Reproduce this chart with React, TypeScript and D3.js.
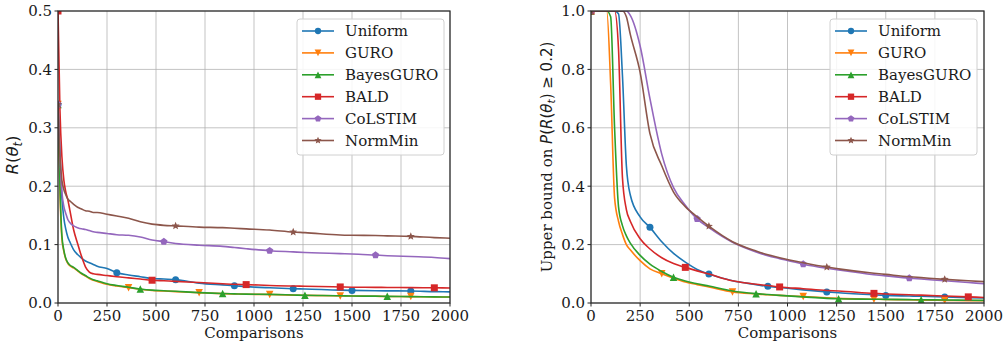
import React from "react";
import * as d3 from "d3";

// ---------- data ----------
const comparisons = [0, 10, 20, 30, 40, 50, 60, 80, 100, 120, 140, 160, 180, 200, 250, 300, 360, 420, 480, 540, 600, 720, 840, 900, 960, 1080, 1200, 1260, 1440, 1500, 1620, 1680, 1800, 1920, 2000];

const methodNames = ["Uniform", "GURO", "BayesGURO", "BALD", "CoLSTIM", "NormMin"];
const markerPeriods = [300, 360, 420, 480, 540, 600];

// Left panel: R(theta_t)
const riskUniform = [0.34, 0.26, 0.18, 0.145, 0.126, 0.113, 0.105, 0.091, 0.083, 0.077, 0.072, 0.069, 0.066, 0.063, 0.059, 0.052, 0.048, 0.045, 0.042, 0.041, 0.04, 0.034, 0.031, 0.0296, 0.028, 0.026, 0.0245, 0.024, 0.022, 0.0216, 0.021, 0.0208, 0.0205, 0.0195, 0.019];
const riskGURO = [0.34, 0.19, 0.11, 0.088, 0.075, 0.068, 0.064, 0.06, 0.055, 0.05, 0.046, 0.042, 0.039, 0.037, 0.032, 0.029, 0.026, 0.0235, 0.0215, 0.0205, 0.0195, 0.0175, 0.016, 0.0155, 0.015, 0.0145, 0.0135, 0.013, 0.0122, 0.012, 0.0115, 0.0112, 0.011, 0.0105, 0.0102];
const riskBayesGURO = [0.34, 0.2, 0.115, 0.09, 0.076, 0.069, 0.065, 0.061, 0.056, 0.051, 0.047, 0.043, 0.04, 0.038, 0.033, 0.03, 0.027, 0.024, 0.022, 0.021, 0.02, 0.0178, 0.0162, 0.0157, 0.0152, 0.0147, 0.0137, 0.0132, 0.0125, 0.012, 0.0117, 0.0114, 0.011, 0.0105, 0.0103];
const riskBALD = [0.5, 0.33, 0.25, 0.21, 0.19, 0.177, 0.16, 0.125, 0.102, 0.08, 0.062, 0.053, 0.05, 0.049, 0.047, 0.045, 0.043, 0.041, 0.039, 0.038, 0.037, 0.035, 0.033, 0.032, 0.0315, 0.03, 0.029, 0.0288, 0.0275, 0.027, 0.0268, 0.0266, 0.0264, 0.026, 0.0258];
const riskCoLSTIM = [0.34, 0.25, 0.19, 0.165, 0.153, 0.143, 0.138, 0.132, 0.129, 0.127, 0.126, 0.124, 0.122, 0.121, 0.119, 0.117, 0.116, 0.113, 0.108, 0.105, 0.102, 0.099, 0.097, 0.095, 0.093, 0.0895, 0.0875, 0.0865, 0.0845, 0.084, 0.082, 0.081, 0.0795, 0.078, 0.076];
const riskNormMin = [0.34, 0.25, 0.21, 0.194, 0.185, 0.178, 0.175, 0.169, 0.164, 0.161, 0.158, 0.157, 0.155, 0.155, 0.152, 0.149, 0.145, 0.139, 0.135, 0.133, 0.132, 0.13, 0.129, 0.128, 0.127, 0.125, 0.1215, 0.1205, 0.1165, 0.116, 0.1155, 0.115, 0.114, 0.112, 0.111];

// Right panel: upper bound on P(R(theta_t) >= 0.2)
const probUniform = [1, 1, 1, 1, 1, 1, 1, 1, 1, 1, 0.99, 0.78, 0.47, 0.37, 0.295, 0.259, 0.21, 0.17, 0.14, 0.115, 0.099, 0.076, 0.063, 0.057, 0.053, 0.045, 0.038, 0.035, 0.028, 0.026, 0.024, 0.023, 0.0205, 0.018, 0.017];
const probGURO = [1, 1, 1, 1, 1, 1, 1, 1, 0.75, 0.36, 0.28, 0.235, 0.2, 0.182, 0.145, 0.117, 0.1, 0.085, 0.072, 0.063, 0.055, 0.038, 0.031, 0.028, 0.026, 0.022, 0.018, 0.016, 0.013, 0.012, 0.011, 0.01, 0.009, 0.008, 0.0075];
const probBayesGURO = [1, 1, 1, 1, 1, 1, 1, 1, 0.98, 0.6, 0.33, 0.265, 0.23, 0.205, 0.163, 0.133, 0.108, 0.088, 0.075, 0.066, 0.058, 0.041, 0.032, 0.029, 0.026, 0.021, 0.016, 0.0145, 0.013, 0.0125, 0.0115, 0.011, 0.0105, 0.0095, 0.009];
const probBALD = [1, 1, 1, 1, 1, 1, 1, 1, 1, 1, 0.87, 0.43, 0.32, 0.28, 0.22, 0.185, 0.155, 0.135, 0.122, 0.11, 0.099, 0.076, 0.064, 0.06, 0.055, 0.049, 0.043, 0.041, 0.033, 0.031, 0.028, 0.027, 0.024, 0.021, 0.019];
const probCoLSTIM = [1, 1, 1, 1, 1, 1, 1, 1, 1, 1, 1, 1, 1, 0.985, 0.88, 0.7, 0.51, 0.395, 0.335, 0.288, 0.258, 0.208, 0.175, 0.162, 0.152, 0.133, 0.119, 0.113, 0.097, 0.093, 0.085, 0.082, 0.076, 0.07, 0.066];
const probNormMin = [1, 1, 1, 1, 1, 1, 1, 1, 1, 1, 1, 1, 0.98, 0.92, 0.79, 0.58, 0.47, 0.38, 0.33, 0.295, 0.263, 0.21, 0.178, 0.165, 0.155, 0.138, 0.123, 0.117, 0.102, 0.098, 0.09, 0.087, 0.081, 0.076, 0.073];

const xTicks = [0, 250, 500, 750, 1000, 1250, 1500, 1750, 2000];
const riskTicks = [0, 0.1, 0.2, 0.3, 0.4, 0.5];
const probTicks = [0, 0.2, 0.4, 0.6, 0.8, 1.0];

// ---------- styles ----------
const colors = ["#1f77b4", "#ff7f0e", "#2ca02c", "#d62728", "#9467bd", "#8c564b"];
const shapes = ["circle", "triDown", "triUp", "square", "pentagon", "star"];
const FONT = "'DejaVu Serif', serif";
const MATH = "'DejaVu Sans', sans-serif";
const FS = 15;

function polygon(pts: [number, number][]) {
  return "M" + pts.map((p) => p[0].toFixed(2) + "," + p[1].toFixed(2)).join("L") + "Z";
}

function markerPath(shape: string, size: number): string {
  const h = size / 2;
  switch (shape) {
    case "circle":
      return `M${h},0A${h},${h} 0 1,1 ${-h},0A${h},${h} 0 1,1 ${h},0Z`;
    case "triDown":
      return polygon([[0, h], [-h, -h], [h, -h]]);
    case "triUp":
      return polygon([[0, -h], [-h, h], [h, h]]);
    case "square":
      return polygon([[-h, -h], [h, -h], [h, h], [-h, h]]);
    case "pentagon": {
      const pts: [number, number][] = [];
      for (let i = 0; i < 5; i++) {
        const a = -Math.PI / 2 + (i * 2 * Math.PI) / 5;
        pts.push([h * 1.1 * Math.cos(a), h * 1.1 * Math.sin(a)]);
      }
      return polygon(pts);
    }
    case "star": {
      const pts: [number, number][] = [];
      for (let i = 0; i < 10; i++) {
        const r = i % 2 === 0 ? h * 1.2 : h * 1.2 * 0.45;
        const a = -Math.PI / 2 + (i * Math.PI) / 5;
        pts.push([r * Math.cos(a), r * Math.sin(a)]);
      }
      return polygon(pts);
    }
  }
  return "";
}

const markerSizes = [7, 7.5, 7.5, 7, 7, 7];

type PanelProps = {
  id: string;
  left: number;
  right: number;
  top: number;
  bottom: number;
  yMax: number;
  yTicks: number[];
  series: number[][];
  legendX: number;
  yLabel: React.ReactNode;
};

function Panel(p: PanelProps) {
  const x = d3.scaleLinear().domain([0, 2000]).range([p.left, p.right]);
  const y = d3.scaleLinear().domain([0, p.yMax]).range([p.bottom, p.top]);
  const line = d3
    .line<number>()
    .x((_, i) => x(comparisons[i]))
    .y((d) => y(d))
    .curve(d3.curveMonotoneX);
  const fmtY = d3.format(".1f");
  const legendTop = 19;
  const legendW = 147;
  const legendH = 136;
  const rowH = 21.9;

  return (
    <g>
      <defs>
        <clipPath id={p.id}>
          <rect x={p.left} y={p.top} width={p.right - p.left} height={p.bottom - p.top} />
        </clipPath>
      </defs>
      {/* grid */}
      {xTicks.map((t) => (
        <line key={"gx" + t} x1={x(t)} x2={x(t)} y1={p.top} y2={p.bottom} stroke="#b0b0b0" strokeWidth={1} opacity={0.75} />
      ))}
      {p.yTicks.map((t) => (
        <line key={"gy" + t} x1={p.left} x2={p.right} y1={y(t)} y2={y(t)} stroke="#b0b0b0" strokeWidth={1} opacity={0.75} />
      ))}
      {/* series */}
      <g clipPath={`url(#${p.id})`}>
        {p.series.map((vals, si) => (
          <g key={si}>
            <path d={line(vals) || ""} fill="none" stroke={colors[si]} strokeWidth={1.6} strokeLinejoin="round" />
            {vals.map((v, i) =>
              comparisons[i] % markerPeriods[si] === 0 ? (
                <path
                  key={i}
                  d={markerPath(shapes[si], markerSizes[si])}
                  transform={`translate(${x(comparisons[i])},${y(v)})`}
                  fill={colors[si]}
                />
              ) : null
            )}
          </g>
        ))}
      </g>
      {/* frame */}
      <rect x={p.left} y={p.top} width={p.right - p.left} height={p.bottom - p.top} fill="none" stroke="#262626" strokeWidth={1.2} />
      {/* x ticks */}
      {xTicks.map((t) => (
        <g key={"xt" + t}>
          <line x1={x(t)} x2={x(t)} y1={p.bottom} y2={p.bottom + 3.5} stroke="#262626" strokeWidth={1} />
          <text x={x(t)} y={p.bottom + 18} textAnchor="middle" fontFamily={FONT} fontSize={FS} fill="#1a1a1a">
            {t}
          </text>
        </g>
      ))}
      {/* y ticks */}
      {p.yTicks.map((t) => (
        <g key={"yt" + t}>
          <line x1={p.left - 3.5} x2={p.left} y1={y(t)} y2={y(t)} stroke="#262626" strokeWidth={1} />
          <text x={p.left - 6} y={y(t) + 5.3} textAnchor="end" fontFamily={FONT} fontSize={FS} fill="#1a1a1a">
            {fmtY(t)}
          </text>
        </g>
      ))}
      <text x={(p.left + p.right) / 2} y={p.bottom + 35} textAnchor="middle" fontFamily={FONT} fontSize={FS} fill="#1a1a1a">
        Comparisons
      </text>
      {p.yLabel}
      {/* legend */}
      <g>
        <rect x={p.legendX} y={legendTop} width={legendW} height={legendH} rx={3} fill="white" fillOpacity={0.85} stroke="#d0d0d0" strokeWidth={1} />
        {methodNames.map((name, si) => {
          const cy = legendTop + 12 + si * rowH;
          return (
            <g key={name}>
              <line x1={p.legendX + 5} x2={p.legendX + 37} y1={cy} y2={cy} stroke={colors[si]} strokeWidth={1.6} />
              <path d={markerPath(shapes[si], markerSizes[si] * 0.9)} transform={`translate(${p.legendX + 21},${cy})`} fill={colors[si]} />
              <text x={p.legendX + 48} y={cy + 5.3} fontFamily={FONT} fontSize={FS} fill="#1a1a1a">
                {name}
              </text>
            </g>
          );
        })}
      </g>
    </g>
  );
}

export default function App() {
  const riskSeries = [riskUniform, riskGURO, riskBayesGURO, riskBALD, riskCoLSTIM, riskNormMin];
  const probSeries = [probUniform, probGURO, probBayesGURO, probBALD, probCoLSTIM, probNormMin];

  const leftLabel = (
    <text transform="translate(18,155) rotate(-90)" textAnchor="middle" fontFamily={MATH} fontSize={16.5} fill="#1a1a1a">
      <tspan fontStyle="italic">R</tspan>
      <tspan>(</tspan>
      <tspan fontStyle="italic">θ</tspan>
      <tspan fontStyle="italic" fontSize={11.5} dy={3.5}>t</tspan>
      <tspan dy={-3.5}>)</tspan>
    </text>
  );
  const rightLabel = (
    <text transform="translate(552,157) rotate(-90)" textAnchor="middle" fontFamily={FONT} fontSize={FS} fill="#1a1a1a">
      <tspan>Upper bound on </tspan>
      <tspan fontFamily={MATH} fontStyle="italic">P</tspan>
      <tspan fontFamily={MATH}>(</tspan>
      <tspan fontFamily={MATH} fontStyle="italic">R</tspan>
      <tspan fontFamily={MATH}>(</tspan>
      <tspan fontFamily={MATH} fontStyle="italic">θ</tspan>
      <tspan fontFamily={MATH} fontStyle="italic" fontSize={10.5} dy={3}>t</tspan>
      <tspan fontFamily={MATH} dy={-3}>) ≥ 0.2)</tspan>
    </text>
  );

  return (
    <svg width={1005} height={343} style={{ position: "absolute", left: 0, top: 0, background: "white" }}>
      <Panel id="clipL" left={58} right={450} top={11} bottom={303} yMax={0.5} yTicks={riskTicks} series={riskSeries} legendX={297} yLabel={leftLabel} />
      <Panel id="clipR" left={591} right={984} top={11} bottom={303} yMax={1.0} yTicks={probTicks} series={probSeries} legendX={830} yLabel={rightLabel} />
    </svg>
  );
}
